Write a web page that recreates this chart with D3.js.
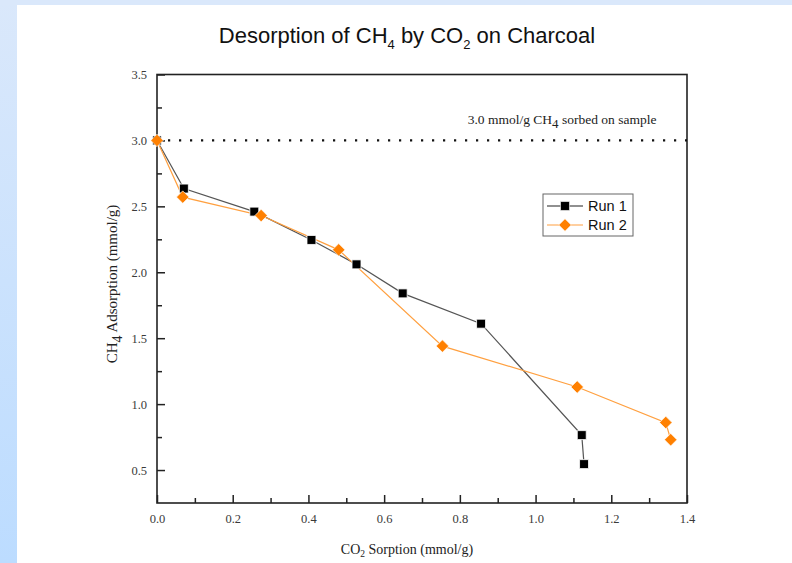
<!DOCTYPE html>
<html><head><meta charset="utf-8">
<script src="https://cdn.jsdelivr.net/npm/d3@7"></script>
<style>
html,body{margin:0;padding:0;}
body{width:792px;height:563px;overflow:hidden;}
</style></head>
<body>
<svg id="chart" width="792" height="563"></svg>
<script>
// Data
const run1X = [0.0, 0.071, 0.257, 0.408, 0.527, 0.649, 0.856, 1.122, 1.128];
const run1Y = [3.0, 2.635, 2.46, 2.245, 2.06, 1.84, 1.61, 0.765, 0.545];
const run2X = [0.0, 0.068, 0.275, 0.48, 0.754, 1.11, 1.344, 1.357];
const run2Y = [3.0, 2.57, 2.43, 2.17, 1.44, 1.13, 0.86, 0.73];
const seriesNames = ["Run 1", "Run 2"];
const xTicks = [0, 0.2, 0.4, 0.6, 0.8, 1.0, 1.2, 1.4];
const yTicks = [0.5, 1.0, 1.5, 2.0, 2.5, 3.0, 3.5];
const refLevel = 3.0;

const svg = d3.select("#chart");
// background
const defs = svg.append("defs");
const g1 = defs.append("linearGradient").attr("id","bgGrad").attr("x1",0).attr("y1",0).attr("x2",0).attr("y2",1);
g1.append("stop").attr("offset","0%").attr("stop-color","#dae8fb");
g1.append("stop").attr("offset","100%").attr("stop-color","#bcdcff");
svg.append("rect").attr("width",792).attr("height",563).attr("fill","url(#bgGrad)");
svg.append("rect").attr("x",0).attr("y",0).attr("width",792).attr("height",5).attr("fill","#dae8fb");
svg.append("rect").attr("x",17).attr("y",5).attr("width",775).attr("height",558).attr("fill","#ffffff");

const L = 157, R = 687, T = 74.5, B = 503;
const x = d3.scaleLinear().domain([0, 1.4]).range([L, R]);
const y = d3.scaleLinear().domain([0.25, 3.5]).range([B, T]);

// Title
const sans = "Liberation Sans, Arial, sans-serif";
const title = svg.append("text").attr("x", 407).attr("y", 43).attr("text-anchor","middle")
  .style("font-family",sans).style("font-size","22px").attr("fill","#111");
title.append("tspan").text("Desorption of CH");
title.append("tspan").attr("dy",6).style("font-size","13px").text("4");
title.append("tspan").attr("dy",-6).text(" by CO");
title.append("tspan").attr("dy",6).style("font-size","13px").text("2");
title.append("tspan").attr("dy",-6).text(" on Charcoal");

// Axes
const tickFont = "Liberation Serif, Times New Roman, serif";
const xAxis = d3.axisBottom(x).tickValues(d3.range(0, 1.401, 0.1)).tickSize(-7).tickFormat(d => {
  return xTicks.some(t => Math.abs(t-d) < 1e-6) ? d3.format(".1f")(d) : "";
});
const gx = svg.append("g").attr("transform",`translate(0,${B})`).call(xAxis);
gx.select(".domain").remove();
gx.selectAll(".tick line").attr("stroke","#222").attr("stroke-width",1.5)
  .attr("y2", (d) => Math.round(d*10) % 2 === 0 ? -8 : -5);
gx.selectAll(".tick text").attr("y", 11).style("font-family",tickFont).style("font-size","12.5px").attr("fill","#3a3a3a");

const yAxis = d3.axisLeft(y).tickValues(d3.range(0.5, 3.501, 0.25)).tickSize(-7).tickFormat(d => {
  return yTicks.some(t => Math.abs(t-d) < 1e-6) ? d3.format(".1f")(d) : "";
});
const gy = svg.append("g").attr("transform",`translate(${L},0)`).call(yAxis);
gy.select(".domain").remove();
gy.selectAll(".tick line").attr("stroke","#222").attr("stroke-width",1.5)
  .attr("x2", (d) => Math.round(d*4) % 2 === 0 ? 8 : 5);
gy.selectAll(".tick text").attr("x", -10).style("font-family",tickFont).style("font-size","12.5px").attr("fill","#3a3a3a");

// frame
svg.append("rect").attr("x",L).attr("y",T).attr("width",R-L).attr("height",B-T)
  .attr("fill","none").attr("stroke","#222").attr("stroke-width",1.6);

// reference dotted line
svg.append("line").attr("x1",x(0)).attr("x2",x(1.4)).attr("y1",y(refLevel)).attr("y2",y(refLevel))
  .attr("stroke","#111").attr("stroke-width",2.2).attr("stroke-dasharray","2.2 8.8");

// annotation
const ann = svg.append("text").attr("x", 562).attr("y", 124).attr("text-anchor","middle")
  .style("font-family",tickFont).style("font-size","13.5px").attr("fill","#222");
ann.append("tspan").text("3.0 mmol/g CH");
ann.append("tspan").attr("dy",4).style("font-size","13px").text("4");
ann.append("tspan").attr("dy",-4).text(" sorbed on sample");

// Axis labels
const xl = svg.append("text").attr("x", 407).attr("y", 554).attr("text-anchor","middle")
  .style("font-family",tickFont).style("font-size","14px").attr("fill","#222");
xl.append("tspan").text("CO");
xl.append("tspan").attr("dy",3).style("font-size","9.5px").text("2");
xl.append("tspan").attr("dy",-3).text(" Sorption (mmol/g)");

const yl = svg.append("text").attr("transform","translate(117,284) rotate(-90)").attr("text-anchor","middle")
  .style("font-family",tickFont).style("font-size","15px").attr("fill","#222");
yl.append("tspan").text("CH");
yl.append("tspan").attr("dy",5).style("font-size","14px").text("4");
yl.append("tspan").attr("dy",-5).text(" Adsorption (mmol/g)");

// series
const run1 = run1X.map((v,i)=>[v, run1Y[i]]);
const run2 = run2X.map((v,i)=>[v, run2Y[i]]);
const line = d3.line().x(d=>x(d[0])).y(d=>y(d[1]));
const c1 = "#000000", c2 = "#ff8000";

svg.append("path").datum(run1).attr("d",line).attr("fill","none").attr("stroke","#555").attr("stroke-width",1.2);
svg.append("path").datum(run2).attr("d",line).attr("fill","none").attr("stroke","#ffa040").attr("stroke-width",1.2);

const sq = d3.symbol().type(d3.symbolSquare).size(80);
const dm = d3.symbol().type(d3.symbolSquare).size(78);
svg.append("g").selectAll("path").data(run1).join("path")
  .attr("transform", d=>`translate(${x(d[0])},${y(d[1])})`).attr("d", sq)
  .attr("fill", c1).attr("stroke","#fff").attr("stroke-width",0.8);
svg.append("g").selectAll("path").data(run2).join("path")
  .attr("transform", d=>`translate(${x(d[0])},${y(d[1])}) rotate(45)`).attr("d", dm)
  .attr("fill", c2).attr("stroke","#fff").attr("stroke-width",0.6);

// legend
const lg = svg.append("g");
lg.append("rect").attr("x",543).attr("y",194).attr("width",90).attr("height",42)
  .attr("fill","#fff").attr("stroke","#666").attr("stroke-width",1);
const rows = [{name: seriesNames[0], lc:"#222", sym: sq, fc: c1, rot: 0}, {name: seriesNames[1], lc:"#ffa040", sym: dm, fc: c2, rot: 45}];
rows.forEach((r,i)=>{
  const yy = 206 + i*19;
  lg.append("line").attr("x1",547).attr("x2",583).attr("y1",yy).attr("y2",yy).attr("stroke",r.lc).attr("stroke-width",1.2);
  lg.append("path").attr("transform",`translate(565,${yy}) rotate(${r.rot})`).attr("d", r.sym).attr("fill", r.fc).attr("stroke","#fff").attr("stroke-width",0.6);
  lg.append("text").attr("x",588).attr("y",yy+5).text(r.name)
    .style("font-family",sans).style("font-size","14.5px").attr("fill","#111");
});
</script>
</body></html>
